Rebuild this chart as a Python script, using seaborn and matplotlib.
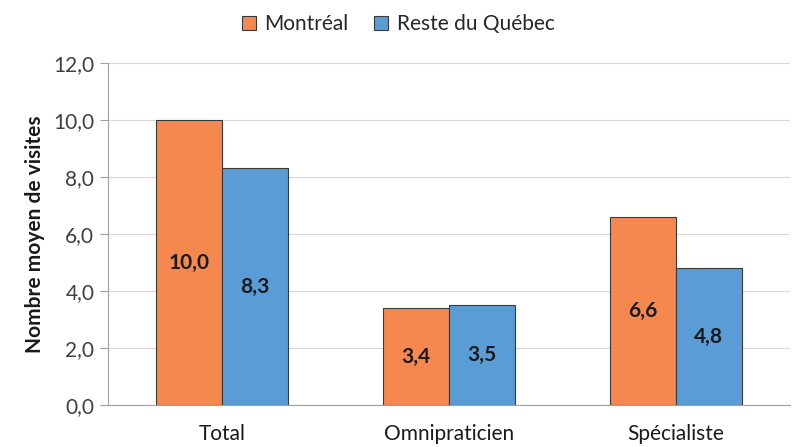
import numpy as np
import pandas as pd
import matplotlib
matplotlib.use("Agg")
import matplotlib.pyplot as plt
import seaborn as sns

# data
categories = ["Total", "Omnipraticien", "Spécialiste"]
montreal = [10.0, 3.4, 6.6]
reste_quebec = [8.3, 3.5, 4.8]
series = ["Montréal", "Reste du Québec"]

df = pd.DataFrame({
    "cat": categories * 2,
    "val": montreal + reste_quebec,
    "region": [series[0]] * 3 + [series[1]] * 3,
})

sns.set_style("white")
plt.rcParams["font.family"] = ["Lato", "DejaVu Sans"]

fig = plt.figure(figsize=(7.96, 4.47), dpi=100)
ax = fig.add_axes([0.136, 0.094, 0.856, 0.765])

palette = {"Montréal": "#F5884F", "Reste du Québec": "#5A9CD6"}
sns.barplot(data=df, x="cat", y="val", hue="region", palette=palette,
            width=0.58, edgecolor="#3a3a3a", linewidth=0.8, saturation=1,
            ax=ax, legend=False)

for cont in ax.containers:
    labels = [f"{v:.1f}".replace(".", ",") for v in cont.datavalues]
    ax.bar_label(cont, labels=labels, label_type="center",
                 fontsize=15, fontweight="bold", color="#1a1a1a")

ax.set_ylim(0, 12)
ax.set_yticks(np.arange(0, 12.1, 2))
ax.set_yticklabels([f"{t:.1f}".replace(".", ",") for t in np.arange(0, 12.1, 2)])
ax.set_xlim(-0.5, 2.5)
ax.yaxis.grid(True, color="#d9d9d9", linewidth=0.8)
ax.set_axisbelow(True)
ax.tick_params(axis="y", labelsize=15, colors="#404040", length=6,
               width=0.8, color="#a0a0a0", left=True, pad=4)
ax.tick_params(axis="x", labelsize=15, colors="#1a1a1a", length=0, pad=14)
for lbl in ax.get_yticklabels():
    lbl.set_color("#404040")
ax.set_xlabel("")
ax.set_ylabel("Nombre moyen de visites", fontsize=15, fontweight="bold",
              color="#1a1a1a", labelpad=6)

for s in ["top", "right"]:
    ax.spines[s].set_visible(False)
ax.spines["left"].set_color("#a0a0a0")
ax.spines["bottom"].set_color("#a0a0a0")
ax.spines["left"].set_linewidth(0.8)
ax.spines["bottom"].set_linewidth(0.8)

handles = [plt.Rectangle((0, 0), 1, 1, facecolor=palette[s], edgecolor="#3a3a3a",
                         linewidth=0.8) for s in series]
fig.legend(handles, series, loc="upper center", bbox_to_anchor=(0.5, 1.01),
           ncol=2, frameon=False, fontsize=15, handlelength=0.7,
           handleheight=0.7, handletextpad=0.4, columnspacing=1.2)

fig.savefig("out.png", dpi=100)
